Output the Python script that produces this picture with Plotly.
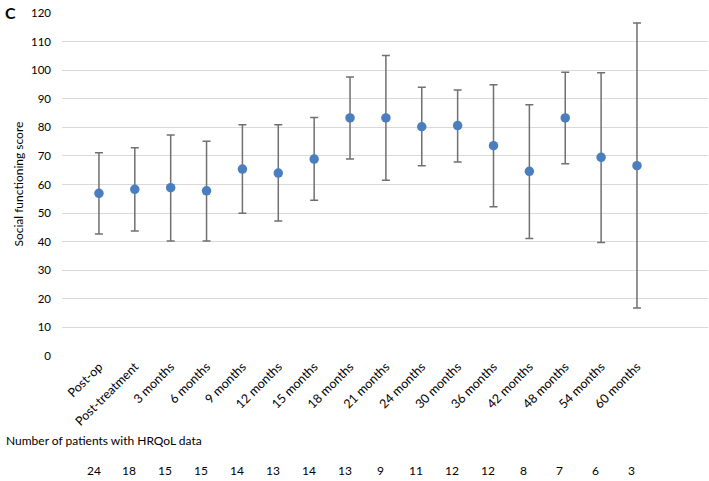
import plotly.graph_objects as go

timepoints = ["Post-op", "Post-treatment", "3 months", "6 months", "9 months", "12 months",
              "15 months", "18 months", "21 months", "24 months", "30 months", "36 months",
              "42 months", "48 months", "54 months", "60 months"]
mean_score = [56.9, 58.3, 58.9, 57.8, 65.4, 64.0, 68.9, 83.3, 83.3, 80.2, 80.6, 73.6, 64.6, 83.3, 69.5, 66.6]
upper_bar = [71.1, 72.9, 77.3, 75.1, 80.9, 80.9, 83.4, 97.6, 105.1, 94.0, 93.1, 94.9, 87.9, 99.3, 99.1, 116.5]
lower_bar = [42.7, 43.7, 40.2, 40.2, 49.9, 47.2, 54.5, 68.9, 61.5, 66.6, 67.9, 52.2, 41.1, 67.3, 39.7, 16.8]
n_patients = [24, 18, 15, 15, 14, 13, 14, 13, 9, 11, 12, 12, 8, 7, 6, 3]
y_ticks = list(range(0, 121, 10))

FONT = "Lato"

xs = list(range(len(timepoints)))
err_plus = [u - m for u, m in zip(upper_bar, mean_score)]
err_minus = [m - l for m, l in zip(mean_score, lower_bar)]

fig = go.Figure()
fig.add_trace(go.Scatter(
    x=xs, y=mean_score, mode="markers",
    marker=dict(color="#4a7ebf", size=9.5),
    error_y=dict(type="data", symmetric=False, array=err_plus, arrayminus=err_minus,
                 color="#707070", thickness=1.5, width=4),
    showlegend=False, hoverinfo="skip"))

annotations = []
for i, n in enumerate(n_patients):
    annotations.append(dict(x=i - 0.15, xref="x", y=-0.334, yref="paper", text=str(n),
                            showarrow=False, xanchor="center", yanchor="middle",
                            font=dict(family=FONT, size=12, color="#000000")))
annotations.append(dict(x=-0.0898, xref="paper", y=-0.247, yref="paper",
                        text="Number of patients with HRQoL data", showarrow=False,
                        xanchor="left", yanchor="middle",
                        font=dict(family=FONT, size=12, color="#000000")))
annotations.append(dict(x=-0.0913, xref="paper", y=0.999, yref="paper", text="<b>C</b>",
                        showarrow=False, xanchor="left", yanchor="middle",
                        font=dict(family=FONT, size=16, color="#000000")))
annotations.append(dict(x=-0.068, xref="paper", y=0.4985, yref="paper",
                        text="Social functioning score", textangle=-90, showarrow=False,
                        xanchor="center", yanchor="middle",
                        font=dict(family=FONT, size=12, color="#000000")))

fig.update_layout(
    width=709, height=481,
    margin=dict(l=62, r=1, t=12, b=125),
    paper_bgcolor="white", plot_bgcolor="white",
    font=dict(family=FONT, color="#000000"),
    xaxis=dict(range=[-1.03, 16.98], tickmode="array", tickvals=xs, ticktext=timepoints,
               tickangle=-45, showgrid=False, zeroline=False, showline=False,
               tickfont=dict(family=FONT, size=12.5, color="#000000"), ticks=""),
    yaxis=dict(range=[0, 120.35], tickmode="array", tickvals=y_ticks, showgrid=True,
               gridcolor="#d9d9d9", gridwidth=1, zeroline=False, showline=False,
               tickfont=dict(family=FONT, size=11.5, color="#000000"), ticks="",
               ticklabelstandoff=10),
    annotations=annotations,
)
fig.write_html("out.html", config={"displayModeBar": False},
               post_script="document.body.style.margin='0';document.body.style.padding='0';")
